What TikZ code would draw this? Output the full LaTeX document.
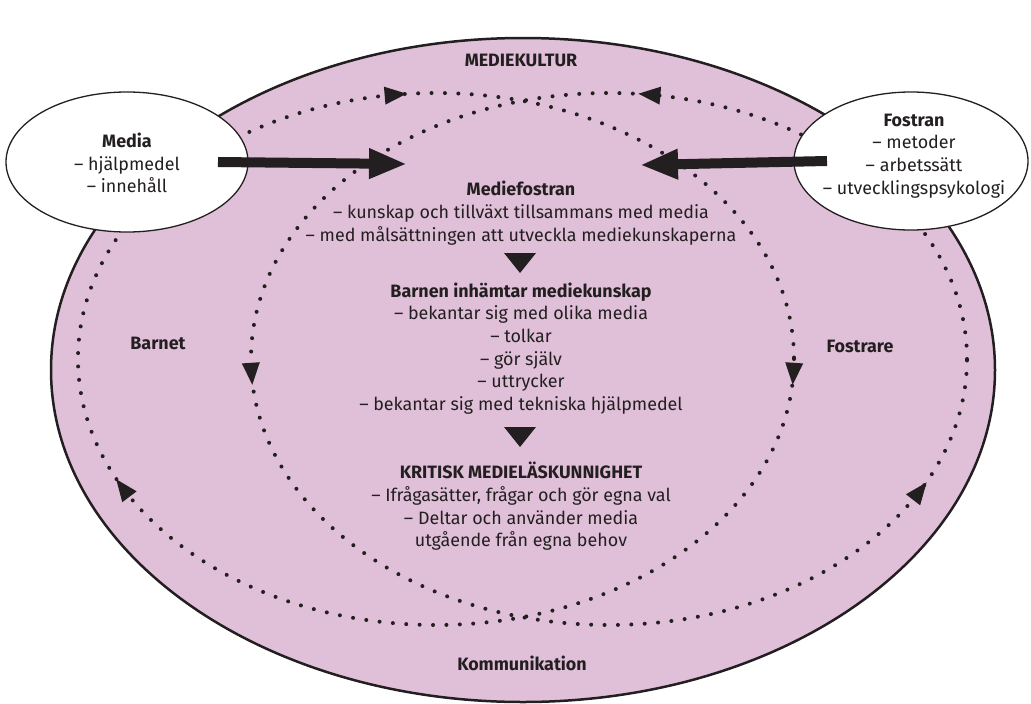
\documentclass[tikz,border=0pt]{standalone}
\usepackage{fontspec}
\setmainfont{Fira Sans}
\usetikzlibrary{shapes.geometric}
\usetikzlibrary{arrows.meta}
\usetikzlibrary{decorations.markings}
\usetikzlibrary{calc}
\definecolor{kulturpink}{RGB}{224,192,216}
\definecolor{inkblack}{RGB}{35,31,32}
\newcommand{\looptip}{\fill[inkblack] (-10pt,-9pt) -- (12pt,0pt) -- (-10pt,9pt) -- cycle;}
\newcommand{\downtri}[1]{\fill[inkblack] ($#1+(-16,-10)$) -- ($#1+(16,-10)$) -- ($#1+(0,10)$) -- cycle;}

\begin{document}
\begin{tikzpicture}[x=1pt,y=-1pt,
    txt/.style={align=center,inner sep=0pt,text=inkblack,font=\fontsize{17.9}{22.7}\selectfont},
    head/.style={txt,font=\fontsize{17.9}{22.7}\selectfont\bfseries},
    oval/.style={ellipse,draw=inkblack,line width=1.3pt,fill=white,inner sep=0pt},
    loopdots/.style={draw=inkblack,line width=4pt,line cap=round,dash pattern=on 0pt off 13.4pt},
    fatarrow/.style={draw=inkblack,line width=10pt,-{Triangle[length=38pt,width=28pt]}}]
  \useasboundingbox (0,0) rectangle (1031,704);
  % outer culture oval
  \node[ellipse,draw=inkblack,line width=2.5pt,fill=kulturpink,inner sep=0pt,
        minimum width=944pt,minimum height=664pt] (kultur) at (523,370) {};
  % the two dotted loops
  \draw[loopdots,postaction={decorate},decoration={markings,
      mark=at position 0.007 with {\looptip},
      mark=at position 0.429 with {\looptip},
      mark=at position 0.729 with {\looptip}}]
    (794,359) arc[start angle=0,end angle=360,x radius=358,y radius=266];
  \draw[loopdots,postaction={decorate},decoration={markings,
      mark=at position 0.229 with {\looptip},
      mark=at position 0.507 with {\looptip},
      mark=at position 0.927 with {\looptip}}]
    (967,359) arc[start angle=0,end angle=-360,x radius=358,y radius=266];
  % media and fostran
  \node[oval,minimum width=242pt,minimum height=140pt] (media) at (127,162) {};
  \node[oval,minimum width=234pt,minimum height=138pt] (fostran) at (911,161) {};
  \node[txt] (mediatext) at (127,163) {\textbf{Media}\\– hjälpmedel\\– innehåll};
  \node[txt] (fostrantext) at (914,156) {\textbf{Fostran}\\– metoder\\– arbetssätt\\– utvecklingspsykologi};
  \coordinate (mediatip) at (407,164);
  \coordinate (fostrantip) at (640,165);
  \draw[fatarrow] ([xshift=91pt]media.center) -- (mediatip);
  \draw[fatarrow] ([xshift=-84pt]fostran.center) -- (fostrantip);
  % labels
  \node[head] (kulturlabel) at (521,60) {MEDIEKULTUR};
  \node[head] (barnet) at (158,343) {Barnet};
  \node[head] (fostrare) at (860,346) {Fostrare};
  \node[head] (kommunikation) at (522,663) {Kommunikation};
  % centre column
  \node[txt] (mediefostran) at (521,213) {\textbf{Mediefostran}\\– kunskap och tillväxt tillsammans med media\\– med målsättningen att utveckla mediekunskaperna};
  \downtri{(520,263)}
  \node[txt] (barnen) at (521,348.5) {\textbf{Barnen inhämtar mediekunskap}\\– bekantar sig med olika media\\– tolkar\\– gör själv\\– uttrycker\\– bekantar sig med tekniska hjälpmedel};
  \downtri{(520,437)}
  \node[txt] (kritisk) at (521,506.5) {\textbf{KRITISK MEDIELÄSKUNNIGHET}\\– Ifrågasätter, frågar och gör egna val\\– Deltar och använder media\\utgående från egna behov};
\end{tikzpicture}
\end{document}
